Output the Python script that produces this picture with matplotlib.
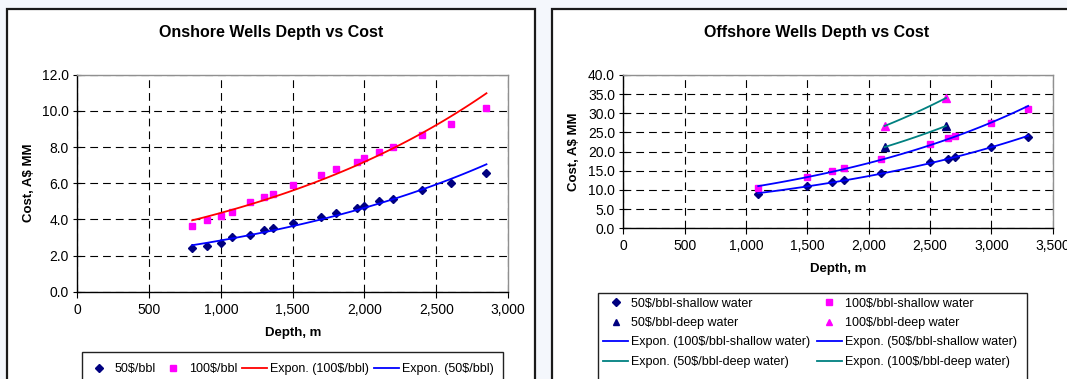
import numpy as np
import matplotlib
matplotlib.use('Agg')
import matplotlib.pyplot as plt
from matplotlib.patches import Rectangle
from matplotlib.lines import Line2D
from matplotlib.ticker import FuncFormatter

plt.rcParams['font.family'] = ['Liberation Sans', 'DejaVu Sans']

# onshore wells: depth (m) vs cost (A$ MM)
on_depth = [800, 900, 1000, 1080, 1200, 1300, 1360, 1500, 1700, 1800,
            1950, 2000, 2100, 2200, 2400, 2600, 2850]
on_cost_50 = [2.4, 2.55, 2.7, 3.0, 3.15, 3.4, 3.5, 3.8, 4.15, 4.35,
              4.65, 4.75, 5.0, 5.15, 5.6, 6.0, 6.55]
on_cost_100 = [3.65, 3.95, 4.2, 4.4, 4.95, 5.25, 5.4, 5.9, 6.45, 6.8,
               7.2, 7.4, 7.7, 8.0, 8.65, 9.3, 10.15]

# offshore wells
sh_depth = [1100, 1500, 1700, 1800, 2100, 2500, 2650, 2700, 3000, 3300]
sh_cost_50 = [9.0, 11.0, 12.0, 12.5, 14.3, 17.2, 18.2, 18.7, 21.1, 23.7]
sh_cost_100 = [10.6, 13.4, 14.9, 15.7, 18.1, 22.0, 23.6, 24.0, 27.4, 31.0]
dp_depth = [2130, 2630]
dp_cost_50 = [21.2, 26.7]
dp_cost_100 = [26.7, 34.0]

NAVY = '#000080'
MAG = '#FF00FF'
W, H = 1067, 379


def fx(px):
    return px / W


def fy(py):
    return 1 - py / H


def expfit(x, y):
    # exponential trendline y = a*exp(b*x)
    x = np.asarray(x, float)
    b, a = np.polyfit(x, np.log(y), 1)
    xs = np.linspace(x.min(), x.max(), 100)
    return xs, np.exp(a + b * xs)


def style(ax, xmax, ymax, ystep):
    ax.set_xlim(0, xmax)
    ax.set_ylim(0, ymax)
    ax.set_xticks(np.arange(0, xmax + 1, 500))
    ax.set_yticks(np.arange(0, ymax + 0.01, ystep))
    ax.grid(True, color='black', linestyle=(0, (7, 4.5)), linewidth=0.8)
    ax.set_axisbelow(True)
    for s in ['left', 'bottom']:
        ax.spines[s].set_color('black')
        ax.spines[s].set_linewidth(1.0)
    for s in ['top', 'right']:
        ax.spines[s].set_color('#909090')
        ax.spines[s].set_linewidth(1.0)
    ax.tick_params(axis='y', direction='inout', length=6, width=0.8,
                   labelsize=10, pad=3)
    ax.tick_params(axis='x', direction='out', length=4, width=0.8,
                   labelsize=10, pad=4)
    ax.xaxis.set_major_formatter(FuncFormatter(lambda v, p: '{:,.0f}'.format(v)))
    ax.yaxis.set_major_formatter(FuncFormatter(lambda v, p: '{:.1f}'.format(v)))


fig = plt.figure(figsize=(10.67, 3.79), dpi=100, facecolor='#f4f7fc')

# chart frames
fig.add_artist(Rectangle((fx(7.3), fy(395)), fx(535) - fx(7.3), fy(9.3) - fy(395),
                         transform=fig.transFigure, fc='white', ec='#1a1a1a',
                         lw=1.6, zorder=-2))
fig.add_artist(Rectangle((fx(552), fy(395)), fx(1090) - fx(552), fy(9.3) - fy(395),
                         transform=fig.transFigure, fc='white', ec='#1a1a1a',
                         lw=1.6, zorder=-2))

# ---- onshore
axL = fig.add_axes([fx(77.3), fy(291.7), fx(508) - fx(77.3), fy(74.7) - fy(291.7)])
style(axL, 3000, 12, 2)
axL.plot(on_depth, on_cost_50, 'D', color=NAVY, ms=4.5, zorder=3)
axL.plot(on_depth, on_cost_100, 's', color=MAG, ms=5, mec=MAG, zorder=3)
xs, ys = expfit(on_depth, on_cost_100)
axL.plot(xs, ys, color='#FF0000', lw=1.3, zorder=4)
xs, ys = expfit(on_depth, on_cost_50)
axL.plot(xs, ys, color='#0000FF', lw=1.3, zorder=4)

fig.text(fx(271), fy(33), 'Onshore Wells Depth vs Cost', ha='center', va='center',
         fontsize=11.5, fontweight='bold')
fig.text(fx(29), fy(183), 'Cost, A$ MM', rotation=90, ha='center', va='center',
         fontsize=9.5, fontweight='bold')
fig.text(fx(293), fy(333), 'Depth, m', ha='center', va='center',
         fontsize=9.5, fontweight='bold')

hL = [Line2D([], [], ls='none', marker='D', color=NAVY, ms=4),
      Line2D([], [], ls='none', marker='s', color=MAG, ms=4.5),
      Line2D([], [], color='#FF0000', lw=1.3),
      Line2D([], [], color='#0000FF', lw=1.3)]
lL = ['50$/bbl', '100$/bbl', 'Expon. (100$/bbl)', 'Expon. (50$/bbl)']
fig.add_artist(Rectangle((fx(81.7), fy(395)), fx(502.7) - fx(81.7), fy(352) - fy(395),
                         transform=fig.transFigure, fc='white', ec='#222222',
                         lw=1.0, zorder=-1))
fig.legend(hL, lL, loc='center left', bbox_to_anchor=(fx(86.5), fy(369)),
           ncol=4, frameon=False, borderpad=0, handlelength=2.0,
           handletextpad=0.25, columnspacing=0.4, fontsize=9, borderaxespad=0)

# ---- offshore
axR = fig.add_axes([fx(623.3), fy(228.3), fx(1052.7) - fx(623.3), fy(75) - fy(228.3)])
style(axR, 3500, 40, 5)
axR.plot(sh_depth, sh_cost_50, 'D', color=NAVY, ms=4.5, zorder=3)
axR.plot(sh_depth, sh_cost_100, 's', color=MAG, ms=5, zorder=3)
axR.plot(dp_depth, dp_cost_50, '^', color=NAVY, ms=5.5, zorder=3)
axR.plot(dp_depth, dp_cost_100, '^', color=MAG, ms=5.5, zorder=3)
xs, ys = expfit(sh_depth, sh_cost_100)
axR.plot(xs, ys, color='#0000FF', lw=1.3, zorder=4)
xs, ys = expfit(sh_depth, sh_cost_50)
axR.plot(xs, ys, color='#0000FF', lw=1.3, zorder=4)
xs, ys = expfit(dp_depth, dp_cost_50)
axR.plot(xs, ys, color='#008080', lw=1.3, zorder=4)
xs, ys = expfit(dp_depth, dp_cost_100)
axR.plot(xs, ys, color='#008080', lw=1.3, zorder=4)

fig.text(fx(817), fy(33), 'Offshore Wells Depth vs Cost', ha='center', va='center',
         fontsize=11.5, fontweight='bold')
fig.text(fx(574), fy(151.5), 'Cost, A$ MM', rotation=90, ha='center', va='center',
         fontsize=9.5, fontweight='bold')
fig.text(fx(838), fy(269), 'Depth, m', ha='center', va='center',
         fontsize=9.5, fontweight='bold')

hR = [Line2D([], [], ls='none', marker='D', color=NAVY, ms=4),
      Line2D([], [], ls='none', marker='^', color=NAVY, ms=5),
      Line2D([], [], color='#0000FF', lw=1.3),
      Line2D([], [], color='#008080', lw=1.3),
      Line2D([], [], ls='none', marker='s', color=MAG, ms=4.5),
      Line2D([], [], ls='none', marker='^', color=MAG, ms=5),
      Line2D([], [], color='#0000FF', lw=1.3),
      Line2D([], [], color='#008080', lw=1.3)]
lR = ['50$/bbl-shallow water', '50$/bbl-deep water',
      'Expon. (100$/bbl-shallow water)', 'Expon. (50$/bbl-deep water)',
      '100$/bbl-shallow water', '100$/bbl-deep water',
      'Expon. (50$/bbl-shallow water)', 'Expon. (100$/bbl-deep water)']
fig.add_artist(Rectangle((fx(598), fy(395)), fx(1027) - fx(598), fy(293) - fy(395),
                         transform=fig.transFigure, fc='white', ec='#222222',
                         lw=1.0, zorder=-1))
fig.legend(hR, lR, loc='upper left', bbox_to_anchor=(fx(603.3), fy(297.5)),
           ncol=2, frameon=False, borderpad=0, handlelength=2.0,
           handletextpad=0.25, columnspacing=0.5, labelspacing=0.6,
           fontsize=9, borderaxespad=0)

fig.savefig('out.png', dpi=100, facecolor=fig.get_facecolor())
